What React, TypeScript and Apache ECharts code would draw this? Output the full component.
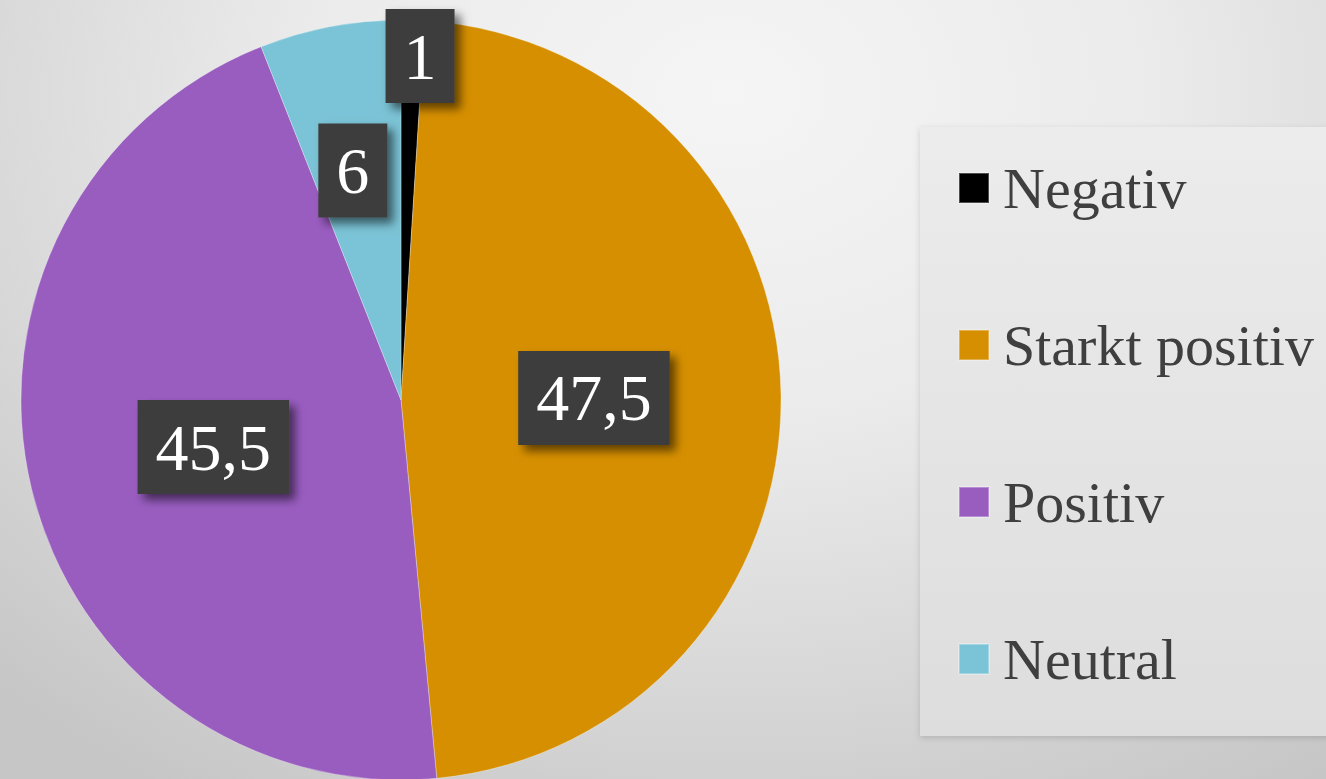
import React, { useEffect, useRef } from "react";
import * as echarts from "echarts";

const categories = ["Negativ", "Starkt positiv", "Positiv", "Neutral"];
const values = [1, 47.5, 45.5, 6];
const colors = ["#000000", "#D68F00", "#995DC0", "#7BC3D6"];
// label shifts (Excel moved small labels outward to avoid overlap)
const labelShiftX = [13, 0, 0, -12];
const labelShiftY = [-151, 1, 2, -40];

export default function App() {
  const ref = useRef<HTMLDivElement>(null);
  useEffect(() => {
    if (!ref.current) return;
    const chart = echarts.init(ref.current, undefined, { renderer: "svg" });
    const font = "'Liberation Serif', 'Times New Roman', serif";
    chart.setOption({
      animation: false,
      backgroundColor: "transparent",
      legend: {
        orient: "vertical",
        left: 920,
        top: 127,
        padding: [31, 60, 47, 38],
        backgroundColor: {
          type: "linear",
          x: 0,
          y: 0,
          x2: 0,
          y2: 1,
          colorStops: [
            { offset: 0, color: "#ececec" },
            { offset: 1, color: "#dddddd" },
          ],
        },
        shadowBlur: 6,
        shadowColor: "rgba(0,0,0,0.15)",
        shadowOffsetX: 0,
        shadowOffsetY: 2,
        itemWidth: 30,
        itemHeight: 30,
        itemGap: 97,
        icon: "rect",
        data: categories,
        textStyle: {
          fontFamily: font,
          fontSize: 58,
          lineHeight: 60,
          color: "#3f3f3f",
          padding: [0, 0, 0, 9],
        },
      },
      series: [
        {
          type: "pie",
          center: [401, 400],
          radius: 380,
          startAngle: 90,
          clockwise: true,
          avoidLabelOverlap: false,
          itemStyle: {
            borderColor: "rgba(255,255,255,0.3)",
            borderWidth: 1,
          },
          label: {
            show: true,
            position: "inside",
            formatter: (p: any) => String(p.value).replace(".", ","),
            fontFamily: font,
            fontSize: 66,
            lineHeight: 70,
            color: "#ffffff",
            backgroundColor: "#3d3d3d",
            padding: [12, 18],
            shadowBlur: 10,
            shadowColor: "rgba(0,0,0,0.55)",
            shadowOffsetX: 6,
            shadowOffsetY: 6,
          },
          labelLine: { show: false },
          labelLayout: (params: any) => ({
            dx: labelShiftX[params.dataIndex],
            dy: labelShiftY[params.dataIndex],
          }),
          data: categories.map((name, i) => ({
            name,
            value: values[i],
            itemStyle: { color: colors[i] },
          })),
        },
      ],
    });
    return () => chart.dispose();
  }, []);
  return (
    <div
      style={{
        position: "fixed",
        left: 0,
        top: 0,
        width: 1326,
        height: 779,
        background:
          "radial-gradient(ellipse 80% 105% at 55% 12%, #f5f5f5 0%, #ebebeb 40%, #d6d6d6 75%, #c6c6c6 100%)",
      }}
    >
      <div ref={ref} style={{ width: 1326, height: 779 }} />
    </div>
  );
}
